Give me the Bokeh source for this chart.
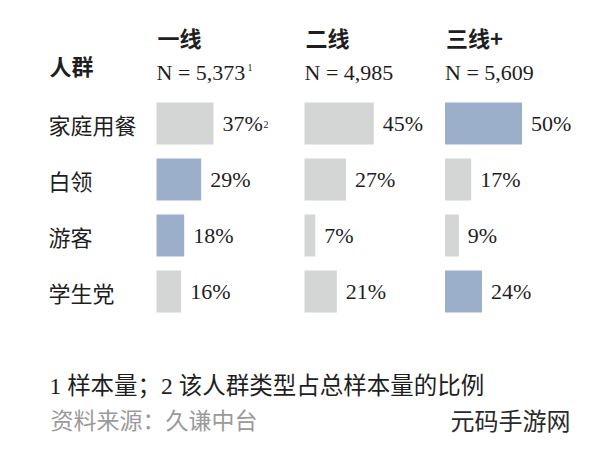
from bokeh.plotting import figure
from bokeh.models import Range1d, ColumnDataSource
from bokeh.embed import file_html
from bokeh.resources import INLINE
from bokeh.core.properties import value

# ---------------- data ----------------
tiers = ["一线", "二线", "三线+"]
sample_n = ["5,373", "4,985", "5,609"]
groups = ["家庭用餐", "白领", "游客", "学生党"]
share_t1 = [37, 29, 18, 16]
share_t2 = [45, 27, 7, 21]
share_t3 = [50, 17, 9, 24]
highlight_t1 = [False, True, True, False]
highlight_t2 = [False, False, False, False]
highlight_t3 = [True, False, False, True]
header_label = "人群"
footnote = "1 样本量；2 该人群类型占总样本量的比例"
source_note = "资料来源：久谦中台"
watermark = "元码手游网"

# ---------------- layout / style ----------------
W, H = 584, 441
COL_X = [156, 304, 444.5]
ROW_Y = [123, 179, 235, 291]
BAR_HALF = 21
PX_PER_PCT = 1.54
GAP = 9
GRAY = "#d4d6d6"
BLUE = "#9bafcb"
TXT = "#1e1e1e"
SERIF_CJK = "'Liberation Serif', 'Noto Sans CJK SC'"
CJK = "'Noto Sans CJK SC'"

p = figure(width=W, height=H, x_range=Range1d(0, W), y_range=Range1d(H, 0),
           output_backend="svg", toolbar_location=None, min_border=0,
           x_axis_location=None, y_axis_location=None)
p.grid.visible = False
p.outline_line_color = None
p.background_fill_color = "white"
p.border_fill_color = "white"

shares = [share_t1, share_t2, share_t3]
highs = [highlight_t1, highlight_t2, highlight_t3]

left, right, top, bottom, colors = [], [], [], [], []
lx, ly, lt = [], [], []
for c in range(3):
    for r, v in enumerate(shares[c]):
        x0 = COL_X[c]
        x1 = x0 + v * PX_PER_PCT
        left.append(x0); right.append(x1)
        top.append(ROW_Y[r] - BAR_HALF); bottom.append(ROW_Y[r] + BAR_HALF)
        colors.append(BLUE if highs[c][r] else GRAY)
        lx.append(x1 + GAP); ly.append(ROW_Y[r]); lt.append(f"{v}%")

p.quad(source=ColumnDataSource(dict(left=left, right=right, top=top, bottom=bottom, color=colors)),
       left="left", right="right", top="top", bottom="bottom",
       fill_color="color", line_color=None)

p.text(x=lx, y=ly, text=lt, text_font=value("Liberation Serif"), text_font_size="22px",
       text_baseline="middle", text_align="left", text_color=TXT)

# superscript 2 on first value label
p.text(x=[lx[0] + 41], y=[ROW_Y[0] + 1], text=["2"], text_font=value("Liberation Serif"),
       text_font_size="10px", text_baseline="alphabetic", text_color=TXT)

# row labels
p.text(x=[48] * len(groups), y=ROW_Y, text=groups, text_font=value(CJK), text_font_size="22px",
       text_baseline="middle", text_align="left", text_color=TXT)

# headers
p.text(x=[49], y=[64.5], text=[header_label], text_font=value(CJK), text_font_size="22px",
       text_font_style="bold", text_baseline="middle", text_color=TXT)
p.text(x=[x + 1 for x in COL_X], y=[36.5] * 3, text=tiers, text_font=value(CJK),
       text_font_size="22px", text_font_style="bold", text_baseline="middle", text_color=TXT)
p.text(x=[x + 0 for x in COL_X], y=[72] * 3, text=[f"N = {n}" for n in sample_n],
       text_font=value("Liberation Serif"), text_font_size="22px",
       text_baseline="alphabetic", text_color=TXT)
p.text(x=[COL_X[0] + 91], y=[67], text=["1"], text_font=value("Liberation Serif"),
       text_font_size="10px", text_baseline="alphabetic", text_color=TXT)

# footnotes
p.text(x=[49], y=[385], text=[footnote], text_font=value(SERIF_CJK), text_font_size="23.5px",
       text_baseline="middle", text_color=TXT)
p.text(x=[50], y=[418], text=[source_note], text_font=value(CJK), text_font_size="23px",
       text_baseline="middle", text_color="#9a9a9a")
p.text(x=[450], y=[419], text=[watermark], text_font=value(CJK), text_font_size="24px",
       text_baseline="middle", text_color="#2a2a2a")

open("out.html", "w").write(file_html(p, INLINE))
